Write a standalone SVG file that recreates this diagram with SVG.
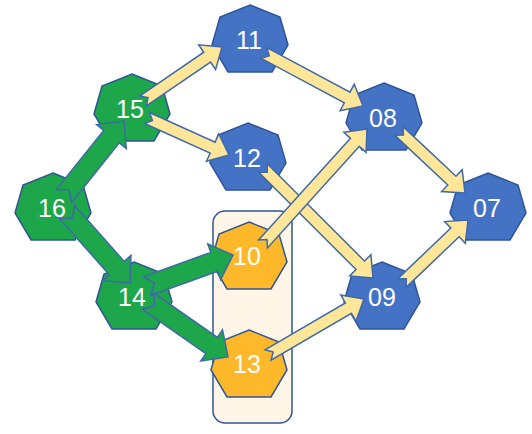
<svg xmlns="http://www.w3.org/2000/svg" xmlns:xlink="http://www.w3.org/1999/xlink" width="532" height="434" viewBox="0 0 532 434">
<style>
.hept{stroke:#2F5597;stroke-width:1.5;stroke-linejoin:miter}
.blue{fill:#4472C4}
.green{fill:#1EA64B}
.orange{fill:#FFB829}
.lbl{font-family:"Liberation Sans",Arial,sans-serif;font-size:25px;fill:#FFFFFF;text-anchor:middle}
.ya{fill:#FFE699;stroke:#3F69AA;stroke-width:1.5;stroke-linejoin:miter}
.ga{fill:#1EA64B;stroke:#3F69AA;stroke-width:1.5;stroke-linejoin:miter}
</style>
<defs>
<polygon id="hept" points="0,-35 30,-23 38,5 22,32 -22,32 -38,5 -30,-23"/>
</defs>
<rect id="group-box" x="213" y="211" width="79" height="212" rx="12" ry="12" fill="#FFF6E8" stroke="#2F5597" stroke-width="1.5"/>
<g id="nodes">
<g id="n11"><use xlink:href="#hept" href="#hept" class="hept blue" x="250" y="40"/><text class="lbl" x="249" y="49">11</text></g>
<g id="n15"><use xlink:href="#hept" href="#hept" class="hept green" x="132" y="109"/><text class="lbl" x="130" y="118">15</text></g>
<g id="n12"><use xlink:href="#hept" href="#hept" class="hept blue" x="248" y="158"/><text class="lbl" x="247" y="167">12</text></g>
<g id="n16"><use xlink:href="#hept" href="#hept" class="hept green" x="53" y="208"/><text class="lbl" x="52" y="217">16</text></g>
<g id="n14"><use xlink:href="#hept" href="#hept" class="hept green" x="134" y="297"/><text class="lbl" x="132" y="306">14</text></g>
<g id="n10"><use xlink:href="#hept" href="#hept" class="hept orange" x="249" y="257"/><text class="lbl" x="247" y="265">10</text></g>
<g id="n13"><use xlink:href="#hept" href="#hept" class="hept orange" x="249" y="365"/><text class="lbl" x="247" y="373">13</text></g>
<g id="n08"><use xlink:href="#hept" href="#hept" class="hept blue" x="384" y="118"/><text class="lbl" x="383" y="127">08</text></g>
<g id="n07"><use xlink:href="#hept" href="#hept" class="hept blue" x="488" y="208"/><text class="lbl" x="487" y="217">07</text></g>
<g id="n09"><use xlink:href="#hept" href="#hept" class="hept blue" x="382" y="297"/><text class="lbl" x="382" y="306">09</text></g>
</g>
<g id="connectors">
<path id="e15-11" class="ya" transform="translate(143,101) rotate(-34.35)" d="M0,-6 L77.7,-6 L77.7,-15 L95.7,0 L77.7,15 L77.7,6 L0,6 L6,0 Z"/>
<path id="e15-12" class="ya" transform="translate(147,118) rotate(24.29)" d="M0,-6 L72,-6 L72,-15 L90,0 L72,15 L72,6 L0,6 L6,0 Z"/>
<path id="e11-08" class="ya" transform="translate(264,53) rotate(28.16)" d="M0,-6 L94.3,-6 L94.3,-15 L112.3,0 L94.3,15 L94.3,6 L0,6 L6,0 Z"/>
<path id="e12-09" class="ya" transform="translate(263,168) rotate(45)" d="M0,-6 L137.6,-6 L137.6,-15 L155.6,0 L137.6,15 L137.6,6 L0,6 L6,0 Z"/>
<path id="e10-08" class="ya" transform="translate(263,244) rotate(-47.88)" d="M0,-6 L137.05,-6 L137.05,-15 L155.05,0 L137.05,15 L137.05,6 L0,6 L6,0 Z"/>
<path id="e13-09" class="ya" transform="translate(268,355) rotate(-30.26)" d="M0,-6 L93.1,-6 L93.1,-15 L111.1,0 L93.1,15 L93.1,6 L0,6 L6,0 Z"/>
<path id="e08-07" class="ya" transform="translate(399,131) rotate(43.21)" d="M0,-6 L72.55,-6 L72.55,-15 L90.55,0 L72.55,15 L72.55,6 L0,6 L6,0 Z"/>
<path id="e09-07" class="ya" transform="translate(402,283) rotate(-43.67)" d="M0,-6 L73.24,-6 L73.24,-15 L91.24,0 L73.24,15 L73.24,6 L0,6 L6,0 Z"/>
<path id="e16-15" class="ga" transform="translate(64,196) rotate(-51.34)" d="M0,-10 L76.05,-10 L76.05,-19 L96.05,0 L76.05,19 L76.05,10 L0,10 L8,0 Z"/>
<path id="e16-14" class="ga" transform="translate(67,212) rotate(48.42)" d="M0,-10 L74.92,-10 L74.92,-19 L94.92,0 L74.92,19 L74.92,10 L0,10 L8,0 Z"/>
<path id="e14-10" class="ga" transform="translate(147,286) rotate(-19.82)" d="M0,-10 L71.42,-10 L71.42,-19 L91.42,0 L71.42,19 L71.42,10 L0,10 L8,0 Z"/>
<path id="e14-13" class="ga" transform="translate(148,301) rotate(34.99)" d="M0,-10 L77.65,-10 L77.65,-19 L97.65,0 L77.65,19 L77.65,10 L0,10 L8,0 Z"/>
</g>
</svg>
